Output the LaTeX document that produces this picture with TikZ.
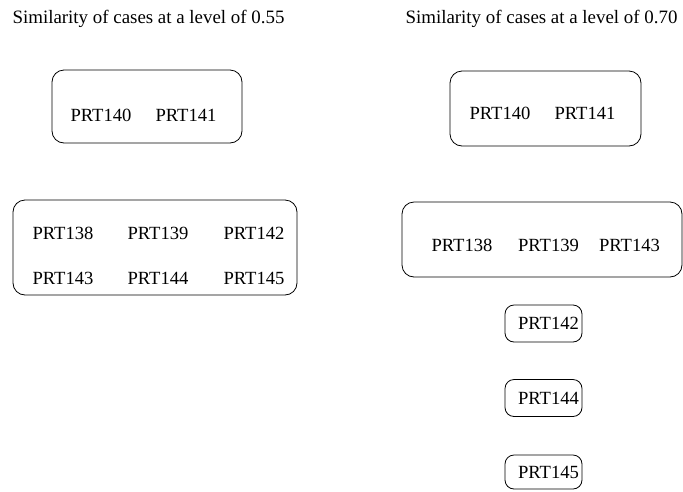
\documentclass[tikz,border=0pt]{standalone}
\usepackage{fontspec}
\setmainfont{Liberation Serif}
\begin{document}
\begin{tikzpicture}[x=1pt,y=-1pt,
  box/.style={draw, line width=0.8pt, rounded corners=12pt, inner sep=0pt},
  lbl/.style={inner sep=0pt, anchor=base, font=\fontsize{18.6}{20}\selectfont},
  ttl/.style={inner sep=0pt, anchor=base, font=\fontsize{18.9}{21}\selectfont}]
\useasboundingbox (0,0) rectangle (683,491);
% titles
\node[ttl] (tl) at (148.5,23) {Similarity of cases at a level of 0.55};
\node[ttl] (tr) at (541.5,23) {Similarity of cases at a level of 0.70};
% left column boxes
\node[box, minimum width=190pt, minimum height=73pt] (bl1) at (147,106.5) {};
\node[lbl] (l140) at (101,121) {PRT140};
\node[lbl] (l141) at (186,121) {PRT141};
\node[box, minimum width=284pt, minimum height=95pt] (bl2) at (155,247.5) {};
\node[lbl] (l138) at (63,239) {PRT138};
\node[lbl] (l139) at (158,239) {PRT139};
\node[lbl] (l142) at (254,239) {PRT142};
\node[lbl] (l143) at (63,284) {PRT143};
\node[lbl] (l144) at (158,284) {PRT144};
\node[lbl] (l145) at (254,284) {PRT145};
% right column boxes
\node[box, minimum width=191pt, minimum height=75pt] (br1) at (545.5,108.5) {};
\node[lbl] (r140) at (500,119) {PRT140};
\node[lbl] (r141) at (585,119) {PRT141};
\node[box, minimum width=280pt, minimum height=75pt] (br2) at (542,239.5) {};
\node[lbl] (r138) at (462,251) {PRT138};
\node[lbl] (r139) at (548.5,251) {PRT139};
\node[lbl] (r143) at (629.5,251) {PRT143};
\node[box, rounded corners=9pt, minimum width=77pt, minimum height=37pt] (br3) at (543.5,323.5) {};
\node[lbl] (r142) at (548.5,329) {PRT142};
\node[box, rounded corners=9pt, minimum width=77pt, minimum height=37pt] (br4) at (543.5,398) {};
\node[lbl] (r144) at (548.5,404) {PRT144};
\node[box, rounded corners=9pt, minimum width=77pt, minimum height=34pt] (br5) at (543.5,472) {};
\node[lbl] (r145) at (548.5,478) {PRT145};
\end{tikzpicture}
\end{document}
